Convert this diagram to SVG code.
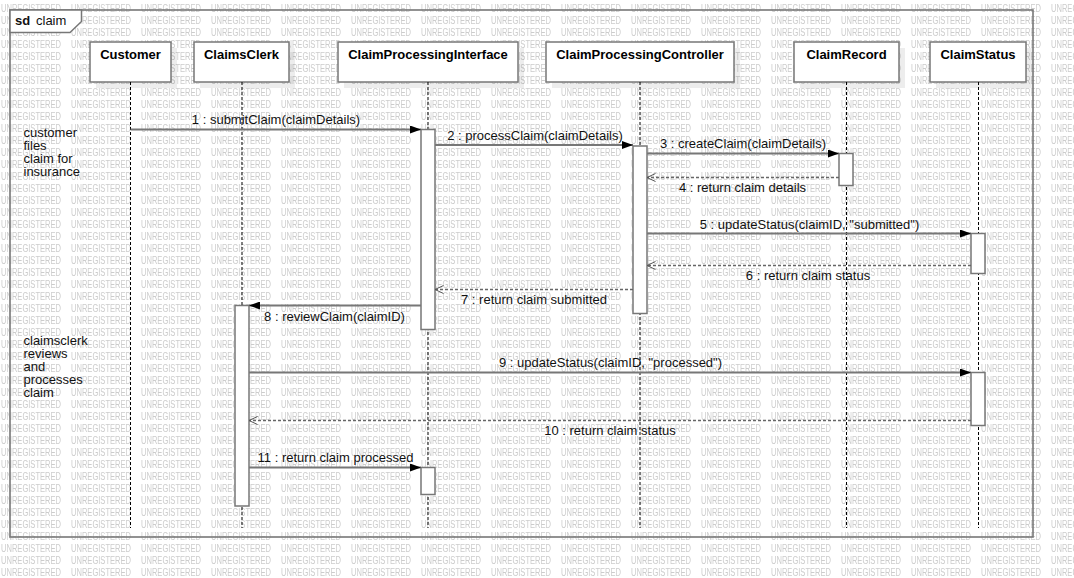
<svg xmlns="http://www.w3.org/2000/svg" width="1074" height="578" viewBox="0 0 1074 578">
<defs>
<pattern id="wm" x="0" y="3" width="70" height="12" patternUnits="userSpaceOnUse">
<text x="1" y="9.3" font-family="Liberation Sans, Arial, sans-serif" font-size="10" fill="#cccccc" textLength="60" lengthAdjust="spacingAndGlyphs">UNREGISTERED</text>
</pattern>
<marker id="fill" viewBox="0 0 11 8" refX="11" refY="4" markerWidth="11" markerHeight="8" markerUnits="userSpaceOnUse" orient="auto">
<path d="M0,0 L11,4 L0,8 z" fill="#000"/>
</marker>
<marker id="open" viewBox="0 0 10 10" refX="9.5" refY="5" markerWidth="10" markerHeight="10" markerUnits="userSpaceOnUse" orient="auto">
<path d="M1,1 L9.5,5 L1,9" fill="none" stroke="#555" stroke-width="1"/>
</marker>
</defs>
<style>
.hdr{fill:#fff;stroke:#777;stroke-width:1.5}
.shd{fill:#000;opacity:0.07}
.ht{font-family:"Liberation Sans",Arial,sans-serif;font-size:13px;font-weight:bold;fill:#000;text-anchor:middle}
.t{font-family:"Liberation Sans",Arial,sans-serif;font-size:13px;fill:#111}
.lbl{font-family:"Liberation Sans",Arial,sans-serif;font-size:13px;fill:#111;text-anchor:middle}
.life{stroke:#000;stroke-width:1;stroke-dasharray:3 2;fill:none}
.act{fill:#fff;stroke:#777;stroke-width:1.5}
.msg{stroke:#777;stroke-width:1.8;fill:none;marker-end:url(#fill)}
.ret{stroke:#666;stroke-width:1.5;stroke-dasharray:3 2;fill:none;marker-end:url(#open)}
</style>
<rect x="0" y="0" width="1074" height="578" fill="#fff"/>
<rect x="0" y="0" width="1074" height="578" fill="url(#wm)"/>

<g id="frame">
<rect x="10" y="10" width="1023" height="527" fill="none" stroke="#777" stroke-width="1.6"/>
<path d="M10,10 L81.5,10 L81.5,21.5 L70,32.5 L10,32.5 z" fill="#fff" stroke="#777" stroke-width="1.5"/>
<text x="15" y="25" class="t" font-weight="bold">sd</text>
<text x="36" y="25" class="t">claim</text>
</g>

<g id="note1">
<text class="t" x="23.5" y="136.5">customer</text>
<text class="t" x="23.5" y="149.5">files</text>
<text class="t" x="23.5" y="162.5">claim for</text>
<text class="t" x="23.5" y="175.5">insurance</text>
</g>
<g id="note2">
<text class="t" x="23.5" y="344.5">claimsclerk</text>
<text class="t" x="23.5" y="357.5">reviews</text>
<text class="t" x="23.5" y="370.5">and</text>
<text class="t" x="23.5" y="383.5">processes</text>
<text class="t" x="23.5" y="396.5">claim</text>
</g>

<g id="Customer">
<rect class="shd" x="96" y="48" width="81" height="40"/>
<rect class="hdr" x="90" y="42" width="81" height="40"/>
<text class="ht" x="130.5" y="59">Customer</text>
<line class="life" x1="130.5" y1="82" x2="130.5" y2="528"/>
</g>
<g id="ClaimsClerk">
<rect class="shd" x="200" y="48" width="95" height="40"/>
<rect class="hdr" x="194" y="42" width="95" height="40"/>
<text class="ht" x="241.5" y="59">ClaimsClerk</text>
<line class="life" x1="242" y1="82" x2="242" y2="528"/>
<rect class="act" x="235" y="305.5" width="14" height="200.5"/>
</g>
<g id="ClaimProcessingInterface">
<rect class="shd" x="344" y="48" width="180" height="40"/>
<rect class="hdr" x="338" y="42" width="180" height="40"/>
<text class="ht" x="428" y="59">ClaimProcessingInterface</text>
<line class="life" x1="428" y1="82" x2="428" y2="528"/>
<rect class="act" x="421" y="129.5" width="14" height="200"/>
<rect class="act" x="421" y="467.5" width="14" height="27"/>
</g>
<g id="ClaimProcessingController">
<rect class="shd" x="552" y="48" width="188" height="40"/>
<rect class="hdr" x="546" y="42" width="188" height="40"/>
<text class="ht" x="640" y="59">ClaimProcessingController</text>
<line class="life" x1="640" y1="82" x2="640" y2="528"/>
<rect class="act" x="633" y="146" width="14" height="167.5"/>
</g>
<g id="ClaimRecord">
<rect class="shd" x="800" y="48" width="105" height="40"/>
<rect class="hdr" x="794" y="42" width="105" height="40"/>
<text class="ht" x="846.5" y="59">ClaimRecord</text>
<line class="life" x1="846.5" y1="82" x2="846.5" y2="528"/>
<rect class="act" x="839" y="153.5" width="14" height="32"/>
</g>
<g id="ClaimStatus">
<rect class="shd" x="936" y="48" width="96" height="40"/>
<rect class="hdr" x="930" y="42" width="96" height="40"/>
<text class="ht" x="978" y="59">ClaimStatus</text>
<line class="life" x1="978.5" y1="82" x2="978.5" y2="528"/>
<rect class="act" x="971" y="233.5" width="14" height="40"/>
<rect class="act" x="971" y="372.5" width="14" height="53"/>
</g>

<g id="connectors">
<line class="msg" x1="130.5" y1="129.5" x2="421" y2="129.5"/>
<text class="lbl" x="276" y="124">1 : submitClaim(claimDetails)</text>
<line class="msg" x1="435" y1="145" x2="633" y2="145"/>
<text class="lbl" x="535" y="139.5">2 : processClaim(claimDetails)</text>
<line class="msg" x1="647" y1="153.5" x2="839" y2="153.5"/>
<text class="lbl" x="743" y="148">3 : createClaim(claimDetails)</text>
<line class="ret" x1="839" y1="177.5" x2="647" y2="177.5"/>
<text class="lbl" x="742.5" y="191.5">4 : return claim details</text>
<line class="msg" x1="647" y1="233.5" x2="971" y2="233.5"/>
<text class="lbl" x="809.5" y="228.5">5 : updateStatus(claimID, "submitted")</text>
<line class="ret" x1="971" y1="265.5" x2="647" y2="265.5"/>
<text class="lbl" x="808" y="279.5">6 : return claim status</text>
<line class="ret" x1="633" y1="289.5" x2="435" y2="289.5"/>
<text class="lbl" x="534" y="303.5">7 : return claim submitted</text>
<line class="msg" x1="421" y1="305.5" x2="249" y2="305.5"/>
<text class="lbl" x="334.5" y="320.5">8 : reviewClaim(claimID)</text>
<line class="msg" x1="249" y1="372.5" x2="971" y2="372.5"/>
<text class="lbl" x="610.5" y="367">9 : updateStatus(claimID, "processed")</text>
<line class="ret" x1="971" y1="420.5" x2="249" y2="420.5"/>
<text class="lbl" x="610" y="435">10 : return claim status</text>
<line class="msg" x1="249" y1="467.5" x2="421" y2="467.5"/>
<text class="lbl" x="335.5" y="461.5">11 : return claim processed</text>
</g>
</svg>
